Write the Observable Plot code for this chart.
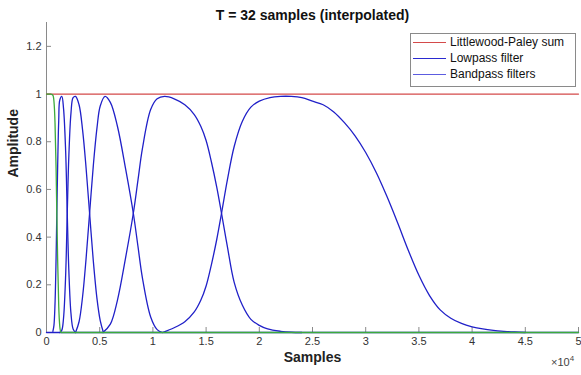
<!DOCTYPE html>
<html><head><meta charset="utf-8">
<script src="https://cdn.jsdelivr.net/npm/d3@7"></script>
<script src="https://cdn.jsdelivr.net/npm/@observablehq/plot@0.6"></script>
<style>
body{margin:0;background:#fff;font-family:"Liberation Sans",Arial,sans-serif;}
#wrap{position:relative;width:581px;height:375px;overflow:hidden;}
#wrap svg{position:absolute;left:0;top:0;}
.legend{position:absolute;left:410px;top:33px;width:164px;height:52px;border:1px solid #8a8a8a;background:#fff;font-size:12px;color:#111;}
.row{position:absolute;left:0;height:16px;display:flex;align-items:center;white-space:nowrap;}
.ln{display:inline-block;width:33px;height:0;border-top:1.3px solid;margin-left:2px;margin-right:4px;}
.exp{position:absolute;left:551px;top:354px;font-size:11px;color:#444;}
.exp sup{font-size:8px;vertical-align:5px;}
</style></head><body><div id="wrap"></div>
<script>
const title = "T = 32 samples (interpolated)";
const xLabel = "Samples";
const yLabel = "Amplitude";
const seriesNames = ["Littlewood-Paley sum", "Lowpass filter", "Bandpass filters"];
const legendColors = ["#d44a4a", "#2a2ad0", "#5c5ce0"];
const xTicks = [0, 5000, 10000, 15000, 20000, 25000, 30000, 35000, 40000, 45000, 50000];
const yTicks = [0, 0.2, 0.4, 0.6, 0.8, 1, 1.2];

const sumX = [0, 50000];
const sumY = [1, 1];

const lowX = [0, 400, 600, 700, 800, 900, 970, 1050, 1150, 1250, 1350, 50000];
const lowY = [1, 1, 0.995, 0.97, 0.88, 0.69, 0.5, 0.3, 0.11, 0.025, 0, 0];

// bandpass filters are zero outside the listed supports
const bandZeroX = [0, 50000];
const bandZeroY = [0, 0];

const b1X = [600, 700, 800, 900, 970, 1050, 1150, 1250, 1440, 1600, 1800, 1950, 2100, 2300, 2500, 2730];
const b1Y = [0.005, 0.03, 0.12, 0.31, 0.5, 0.7, 0.89, 0.975, 0.99, 0.94, 0.76, 0.5, 0.26, 0.08, 0.015, 0];

const b2X = [1250, 1440, 1600, 1800, 1950, 2100, 2300, 2500, 2730, 3060, 3390, 3720, 4050, 4400, 4750, 5050, 5350];
const b2Y = [0, 0.01, 0.06, 0.24, 0.5, 0.74, 0.92, 0.985, 0.99, 0.955, 0.85, 0.69, 0.5, 0.3, 0.14, 0.05, 0];

const b3X = [2730, 3060, 3390, 3720, 4050, 4400, 4750, 5050, 5500, 6000, 6660, 7440, 8160, 8600, 9010, 9790, 10400, 10900];
const b3Y = [0, 0.045, 0.15, 0.31, 0.5, 0.7, 0.86, 0.95, 0.99, 0.965, 0.866, 0.685, 0.5, 0.36, 0.23, 0.065, 0.012, 0];

const b4X = [5300, 6000, 6660, 7440, 8160, 8600, 9010, 9790, 10400, 11100, 12000, 13000, 13870, 14500, 15000, 15500, 16000, 16450, 17000, 17640, 18400, 19210, 20000, 20780, 22000, 23000, 24000];
const b4Y = [0, 0.035, 0.134, 0.315, 0.5, 0.64, 0.77, 0.935, 0.98, 0.99, 0.98, 0.955, 0.915, 0.865, 0.805, 0.715, 0.61, 0.5, 0.36, 0.21, 0.115, 0.055, 0.03, 0.015, 0.005, 0.001, 0];

const b5X = [10900, 12000, 13000, 13870, 14500, 15000, 15500, 16000, 16450, 17000, 17640, 18400, 19210, 20000, 21000, 22000, 23000, 24000, 25000, 26000, 27000, 28000, 29000, 30000, 31000, 32000, 33000, 34000, 35000, 36000, 37000, 38000, 39000, 40000, 41000, 42000, 43000, 44000, 45000];
const b5Y = [0, 0.02, 0.045, 0.085, 0.135, 0.195, 0.285, 0.39, 0.5, 0.64, 0.78, 0.885, 0.945, 0.97, 0.985, 0.99, 0.99, 0.985, 0.97, 0.955, 0.925, 0.88, 0.825, 0.755, 0.67, 0.57, 0.46, 0.345, 0.24, 0.155, 0.095, 0.06, 0.038, 0.024, 0.015, 0.009, 0.005, 0.002, 0];

const rows = (xs, ys, k) => xs.map((x, i) => ({x, y: ys[i], k}));
const sumData = rows(sumX, sumY, "sum");
const lowData = rows(lowX, lowY, "low");
const zeroData = rows(bandZeroX, bandZeroY, "zero");
const bandData = [
  ...rows(b1X, b1Y, "b1"), ...rows(b2X, b2Y, "b2"), ...rows(b3X, b3Y, "b3"),
  ...rows(b4X, b4Y, "b4"), ...rows(b5X, b5Y, "b5")
];

const FONT = "Liberation Sans, Arial, Helvetica, sans-serif";
const chart = Plot.plot({
  width: 581, height: 375,
  marginLeft: 46, marginRight: 3, marginTop: 22, marginBottom: 43,
  x: {domain: [0, 50000]},
  y: {domain: [0, 1.3]},
  style: {fontFamily: FONT, background: "transparent"},
  marks: [
    Plot.ruleX([0], {stroke: "#8a8a8a"}),
    Plot.ruleY([0], {stroke: "#8a8a8a"}),
    Plot.axisX({ticks: xTicks, tickFormat: d => String(d / 1e4), tickSize: -5, tickPadding: 10, stroke: "#8a8a8a", fill: "#333", fontSize: 11, label: null}),
    Plot.axisY({ticks: yTicks, tickFormat: d => String(d), tickSize: -5, tickPadding: 10, stroke: "#8a8a8a", fill: "#333", fontSize: 11, label: null}),
    Plot.line(sumData, {x: "x", y: "y", stroke: "#d44a4a", strokeWidth: 1.3}),
    Plot.line(zeroData, {x: "x", y: "y", stroke: "#2020c8", strokeWidth: 1.3}),
    Plot.line(bandData, {x: "x", y: "y", z: "k", stroke: "#2020c8", strokeWidth: 1.3, curve: "catmull-rom"}),
    Plot.line(lowData, {x: "x", y: "y", stroke: "#3caa3c", strokeWidth: 1.3, curve: "monotone-x"}),
    Plot.text([title], {frameAnchor: "top", dy: -12, fontWeight: "bold", fontSize: 14, fill: "#111"}),
    Plot.text([xLabel], {frameAnchor: "bottom", dy: 29, fontWeight: "bold", fontSize: 14, fill: "#222"}),
    Plot.text([yLabel], {frameAnchor: "left", dx: -33, rotate: -90, fontWeight: "bold", fontSize: 14, fill: "#222"})
  ]
});
const wrap = document.getElementById("wrap");
wrap.appendChild(chart);

const leg = document.createElement("div");
leg.className = "legend";
seriesNames.forEach((name, i) => {
  const r = document.createElement("div");
  r.className = "row";
  r.style.top = (i * 16) + "px";
  const l = document.createElement("span");
  l.className = "ln";
  l.style.borderTopColor = legendColors[i];
  r.appendChild(l);
  r.appendChild(document.createTextNode(name));
  leg.appendChild(r);
});
wrap.appendChild(leg);

const ex = document.createElement("div");
ex.className = "exp";
ex.innerHTML = "×10<sup>4</sup>";
wrap.appendChild(ex);
</script></body></html>
